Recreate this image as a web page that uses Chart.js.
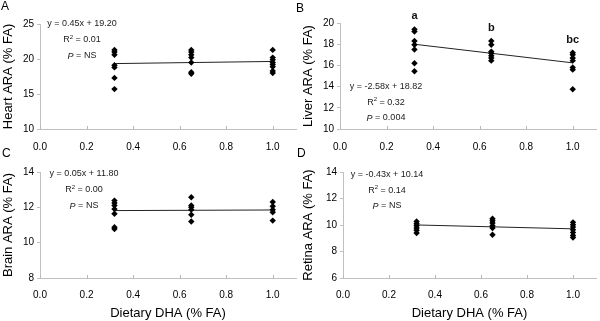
<!DOCTYPE html>
<html>
<head>
<meta charset="utf-8">
<script src="https://cdn.jsdelivr.net/npm/chart.js@4.4.1/dist/chart.umd.min.js"></script>
<style>
  body { margin: 0; background: #fff; }
  #wrap { position: relative; width: 600px; height: 321px; overflow: hidden; font-family: "Liberation Sans", Arial, sans-serif; }
  .box { position: absolute; }
  .tag { position: absolute; font-size: 12px; color: #000; }
</style>
</head>
<body>
<div id="wrap">
  <div class="box" style="left:0;top:0;width:300px;height:160px"><canvas id="heart"></canvas></div>
  <div class="box" style="left:300px;top:0;width:300px;height:160px"><canvas id="liver"></canvas></div>
  <div class="box" style="left:0;top:140px;width:300px;height:181px"><canvas id="brain"></canvas></div>
  <div class="box" style="left:300px;top:140px;width:300px;height:181px"><canvas id="retina"></canvas></div>
  <div class="tag" style="left:1px;top:-1px">A</div>
  <div class="tag" style="left:296px;top:1px">B</div>
  <div class="tag" style="left:2px;top:146px">C</div>
  <div class="tag" style="left:297px;top:146px">D</div>
</div>
<script>
// dietary DHA levels (% FA)
const doses = [0.32, 0.65, 1.0];

// tissue ARA (% FA), one list per diet group
const heartAra = [[21.3, 21.0, 20.6, 19.1, 18.8, 17.3, 15.7], [21.3, 21.0, 20.6, 20.2, 19.5, 18.1, 17.9], [21.3, 20.2, 19.9, 19.5, 19.2, 18.9, 18.3, 18.0]];
const liverAra = [[19.4, 19.2, 18.3, 17.95, 17.5, 16.2, 15.45], [18.3, 17.95, 17.3, 17.15, 16.9, 16.7, 16.45], [17.2, 17.0, 16.7, 16.45, 15.8, 15.6, 13.75]];
const brainAra = [[12.38, 12.25, 12.1, 11.9, 11.64, 10.87, 10.77], [12.57, 12.1, 12.0, 11.87, 11.58, 11.2], [12.3, 12.06, 11.87, 11.72, 11.25]];
const retinaAra = [[10.27, 10.1, 9.94, 9.77, 9.6, 9.4], [10.47, 10.32, 10.15, 9.94, 9.77, 9.26], [10.2, 10.02, 9.84, 9.64, 9.44, 9.21, 9.06]];

// regression fits: [slope, intercept, R2, P]
const heartFit = [0.45, 19.20, '0.01', 'NS'];
const liverFit = [-2.58, 18.82, '0.32', '0.004'];
const brainFit = [0.05, 11.80, '0.00', 'NS'];
const retinaFit = [-0.43, 10.14, '0.14', 'NS'];

const liverGroups = ['a', 'b', 'bc'];

const xTicks = [0, 0.2, 0.4, 0.6, 0.8, 1.0];
const FONT = '"Liberation Sans", Arial, sans-serif';

const notesPlugin = {
    id: 'notes',
    afterDraw(chart, args, opts) {
        const ctx = chart.ctx;
        const area = chart.chartArea;
        const xs = chart.scales.x;
        const ys = chart.scales.y;
        ctx.save();
        // little inward tick marks on x axis
        ctx.strokeStyle = '#b8b8b8';
        ctx.lineWidth = 1;
        xTicks.forEach((v) => {
            const px = Math.round(xs.getPixelForValue(v)) + 0.5;
            ctx.beginPath();
            ctx.moveTo(px, area.bottom);
            ctx.lineTo(px, area.bottom - 3);
            ctx.stroke();
        });
        // equation block
        const fit = opts.fit;
        const cx = area.left + opts.dx;
        let cy = area.top + opts.dy;
        ctx.fillStyle = '#1a1a1a';
        ctx.textBaseline = 'middle';
        ctx.textAlign = 'center';
        ctx.font = '9px ' + FONT;
        const sign = fit[0] < 0 ? '-' : '';
        ctx.fillText(`y = ${sign}${Math.abs(fit[0]).toFixed(2)}x + ${fit[1].toFixed(2)}`, cx, cy);
        cy += opts.gap;
        // R2 line
        const rest = ` = ${fit[2]}`;
        const wR = ctx.measureText('R').width;
        const wRest = ctx.measureText(rest).width;
        ctx.font = '6px ' + FONT;
        const w2 = ctx.measureText('2').width;
        let x0 = cx - (wR + w2 + wRest) / 2;
        ctx.textAlign = 'left';
        ctx.font = '9px ' + FONT;
        ctx.fillText('R', x0, cy);
        ctx.font = '6px ' + FONT;
        ctx.fillText('2', x0 + wR, cy - 3);
        ctx.font = '9px ' + FONT;
        ctx.fillText(rest, x0 + wR + w2, cy);
        cy += opts.gap;
        // P line
        const pRest = ` = ${fit[3]}`;
        ctx.font = 'italic 9px ' + FONT;
        const wP = ctx.measureText('P').width;
        ctx.font = '9px ' + FONT;
        const wPR = ctx.measureText(pRest).width;
        x0 = cx - (wP + wPR) / 2;
        ctx.font = 'italic 9px ' + FONT;
        ctx.fillText('P', x0, cy);
        ctx.font = '9px ' + FONT;
        ctx.fillText(pRest, x0 + wP, cy);
        // group letters
        if (opts.groups) {
            ctx.font = 'bold 11px ' + FONT;
            ctx.textAlign = 'center';
            ctx.fillStyle = '#111';
            opts.groups.forEach((g, i) => {
                const top = Math.max(...opts.values[i]);
                ctx.fillText(g, xs.getPixelForValue(doses[i]), ys.getPixelForValue(top) - 13);
            });
        }
        ctx.restore();
    }
};

function makePanel(id, values, fit, yMin, yMax, yStep, yTitle, showXTitle, layout, note, groups) {
    const points = [];
    values.forEach((grp, i) => {
        grp.forEach((v) => points.push({ x: doses[i], y: v }));
    });
    const ends = [doses[0], doses[doses.length - 1]];
    const fitLine = ends.map((x) => ({ x: x, y: fit[0] * x + fit[1] }));

    new Chart(document.getElementById(id), {
        type: 'scatter',
        data: {
            datasets: [
                {
                    data: points,
                    pointStyle: 'rectRot',
                    pointRadius: 3.2,
                    backgroundColor: '#000',
                    borderColor: '#000',
                    borderWidth: 0,
                },
                {
                    type: 'line',
                    data: fitLine,
                    borderColor: '#222',
                    borderWidth: 1,
                    pointRadius: 0,
                    fill: false,
                },
            ],
        },
        options: {
            responsive: true,
            maintainAspectRatio: false,
            animation: false,
            layout: { padding: { top: layout.top, right: layout.right, left: 0, bottom: 0 } },
            plugins: {
                legend: { display: false },
                tooltip: { enabled: false },
                notes: { fit: fit, dx: note.dx, dy: note.dy, gap: note.gap, groups: groups, values: values },
            },
            scales: {
                x: {
                    type: 'linear',
                    min: 0,
                    max: 1.1,
                    afterBuildTicks: (s) => { s.ticks = xTicks.map((v) => ({ value: v })); },
                    afterFit: (s) => { s.height = layout.xh; },
                    border: { color: '#c0c0c0' },
                    grid: { display: false, drawTicks: false },
                    ticks: {
                        padding: layout.xpad,
                        color: '#000',
                        font: { family: FONT, size: 10 },
                        callback: (v) => v.toFixed(1),
                    },
                    title: {
                        display: showXTitle,
                        text: 'Dietary DHA (% FA)',
                        color: '#000',
                        font: { family: FONT, size: 13 },
                        padding: { top: 2, bottom: 0 },
                    },
                },
                y: {
                    min: yMin,
                    max: yMax,
                    afterFit: (s) => { s.width = layout.yw; },
                    border: { color: '#c0c0c0' },
                    grid: { drawOnChartArea: false, drawTicks: true, tickLength: 3, color: '#c0c0c0' },
                    ticks: {
                        stepSize: yStep,
                        padding: 3,
                        color: '#000',
                        font: { family: FONT, size: 10 },
                    },
                    title: {
                        display: true,
                        text: yTitle,
                        color: '#000',
                        font: { family: FONT, size: 13 },
                        padding: { top: 1, bottom: 0 },
                    },
                },
            },
        },
        plugins: [notesPlugin],
    });
}

makePanel('heart', heartAra, heartFit, 10, 25, 5, 'Heart ARA (% FA)', false,
    { top: 24, right: 4, yw: 40, xh: 31, xpad: 12 }, { dx: 42, dy: 0, gap: 16 });
makePanel('liver', liverAra, liverFit, 10, 20, 2, 'Liver ARA (% FA)', false,
    { top: 23, right: 0, yw: 40, xh: 31, xpad: 12 }, { dx: 46, dy: 64, gap: 15.5 }, liverGroups);
makePanel('brain', brainAra, brainFit, 8, 14, 2, 'Brain ARA (% FA)', true,
    { top: 32, right: 4, yw: 40, xh: 43, xpad: 11 }, { dx: 44, dy: 2, gap: 16 });
makePanel('retina', retinaAra, retinaFit, 6, 14, 2, 'Retina ARA (% FA)', true,
    { top: 32, right: 0, yw: 43, xh: 43, xpad: 11 }, { dx: 44, dy: 3, gap: 15.5 });
</script>
</body>
</html>
